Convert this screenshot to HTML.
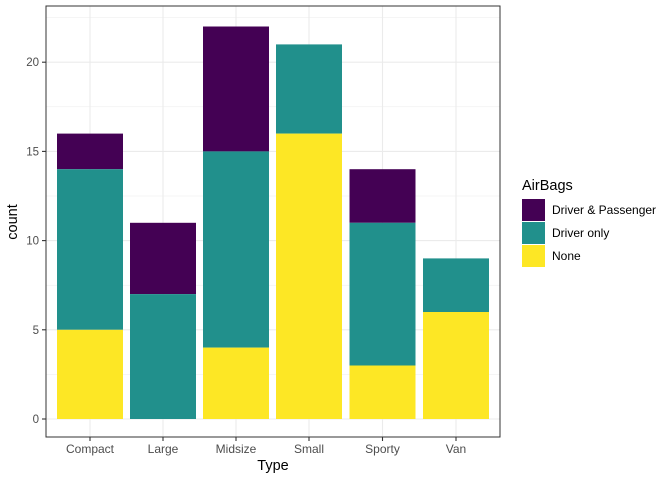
<!DOCTYPE html><html><head><style>body{margin:0;background:#fff}svg{display:block}text{font-family:"Liberation Sans",sans-serif}</style></head><body>
<svg width="672" height="480" xmlns="http://www.w3.org/2000/svg">
<rect x="0" y="0" width="672" height="480" fill="#fff"/>
<g stroke="#EBEBEB" stroke-width="0.5">
<line x1="46" x2="500" y1="374.4" y2="374.4"/><line x1="46" x2="500" y1="285.2" y2="285.2"/><line x1="46" x2="500" y1="196" y2="196"/><line x1="46" x2="500" y1="106.8" y2="106.8"/><line x1="46" x2="500" y1="17.6" y2="17.6"/>
</g>
<g stroke="#EBEBEB" stroke-width="1.1">
<line x1="46" x2="500" y1="419" y2="419"/><line x1="46" x2="500" y1="329.8" y2="329.8"/><line x1="46" x2="500" y1="240.6" y2="240.6"/><line x1="46" x2="500" y1="151.4" y2="151.4"/><line x1="46" x2="500" y1="62.2" y2="62.2"/>
<line x1="90" x2="90" y1="6" y2="437"/><line x1="163" x2="163" y1="6" y2="437"/><line x1="236" x2="236" y1="6" y2="437"/><line x1="309" x2="309" y1="6" y2="437"/><line x1="382.5" x2="382.5" y1="6" y2="437"/><line x1="456" x2="456" y1="6" y2="437"/>
</g>
<g>
<rect x="57" y="133.6" width="66" height="35.6" fill="#440154"/><rect x="57" y="169.2" width="66" height="160.6" fill="#21908C"/><rect x="57" y="329.8" width="66" height="89.2" fill="#FDE725"/>
<rect x="130" y="222.8" width="66" height="71.3" fill="#440154"/><rect x="130" y="294.1" width="66" height="124.9" fill="#21908C"/>
<rect x="203" y="26.5" width="66" height="124.9" fill="#440154"/><rect x="203" y="151.4" width="66" height="196.2" fill="#21908C"/><rect x="203" y="347.6" width="66" height="71.4" fill="#FDE725"/>
<rect x="276" y="44.4" width="66" height="89.2" fill="#21908C"/><rect x="276" y="133.6" width="66" height="285.4" fill="#FDE725"/>
<rect x="349.5" y="169.2" width="66" height="53.6" fill="#440154"/><rect x="349.5" y="222.8" width="66" height="142.7" fill="#21908C"/><rect x="349.5" y="365.5" width="66" height="53.5" fill="#FDE725"/>
<rect x="423" y="258.4" width="66" height="53.6" fill="#21908C"/><rect x="423" y="312" width="66" height="107" fill="#FDE725"/>
</g>
<rect x="46" y="6" width="454" height="431" fill="none" stroke="#333" stroke-width="1"/>
<g stroke="#333" stroke-width="1.1">
<line x1="42" x2="46" y1="419" y2="419"/><line x1="42" x2="46" y1="329.8" y2="329.8"/><line x1="42" x2="46" y1="240.6" y2="240.6"/><line x1="42" x2="46" y1="151.4" y2="151.4"/><line x1="42" x2="46" y1="62.2" y2="62.2"/>
<line x1="90" x2="90" y1="437" y2="441"/><line x1="163" x2="163" y1="437" y2="441"/><line x1="236" x2="236" y1="437" y2="441"/><line x1="309" x2="309" y1="437" y2="441"/><line x1="382.5" x2="382.5" y1="437" y2="441"/><line x1="456" x2="456" y1="437" y2="441"/>
</g>
<g font-size="11.5" fill="#4D4D4D" text-anchor="end">
<text x="39" y="423">0</text><text x="39" y="333.8">5</text><text x="39" y="244.6">10</text><text x="39" y="155.4">15</text><text x="39" y="66.2">20</text>
</g>
<g font-size="12" fill="#4D4D4D" text-anchor="middle">
<text x="90" y="453">Compact</text><text x="163" y="453">Large</text><text x="236" y="453">Midsize</text><text x="309" y="453">Small</text><text x="382.5" y="453">Sporty</text><text x="456" y="453">Van</text>
</g>
<text x="273" y="470" font-size="14.5" text-anchor="middle">Type</text>
<text x="17" y="222" font-size="14.5" text-anchor="middle" transform="rotate(-90 17 222)">count</text>
<text x="522" y="190" font-size="14.5">AirBags</text>
<rect x="522" y="199" width="23" height="22" fill="#440154"/>
<rect x="522" y="222" width="23" height="22" fill="#21908C"/>
<rect x="522" y="245" width="23" height="22" fill="#FDE725"/>
<g font-size="12" fill="#000">
<text x="552" y="214">Driver &amp; Passenger</text><text x="552" y="237">Driver only</text><text x="552" y="260">None</text>
</g>
</svg></body></html>
